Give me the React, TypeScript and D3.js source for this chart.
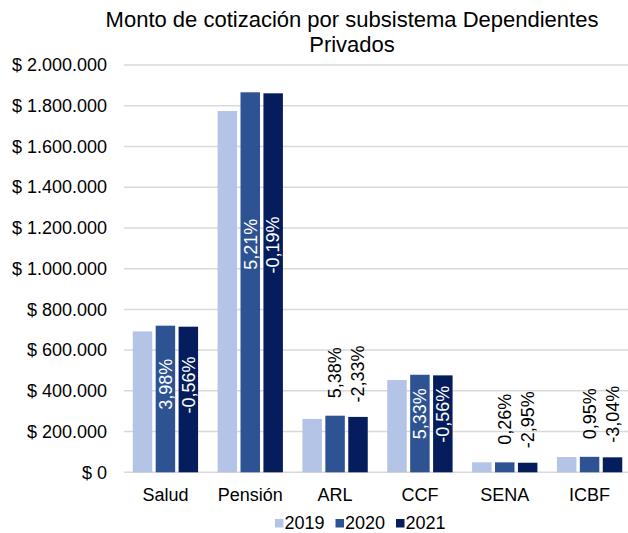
import React from "react";
import * as d3 from "d3";

// Monto de cotización por subsistema - Dependientes Privados
const categories = ["Salud", "Pensión", "ARL", "CCF", "SENA", "ICBF"];
const years = ["2019", "2020", "2021"];
const values2019 = [692000, 1774000, 262000, 453000, 49000, 75000];
const values2020 = [720000, 1866000, 278000, 479000, 49000, 76000];
const values2021 = [715000, 1861000, 272000, 476000, 47000, 73500];
const change2020 = ["3,98%", "5,21%", "5,38%", "5,33%", "0,26%", "0,95%"];
const change2021 = ["-0,56%", "-0,19%", "-2,33%", "-0,56%", "-2,95%", "-3,04%"];
const yTicks = [0, 200000, 400000, 600000, 800000, 1000000, 1200000, 1400000, 1600000, 1800000, 2000000];

const colors = ["#b4c4e7", "#2e5393", "#051d5c"];
const font = "'Liberation Sans', Arial, sans-serif";

const W = 628;
const H = 533;
const plot = { left: 123, right: 632, top: 65, bottom: 472.3 };

const fmt = (v: number) =>
  "$ " + d3.format(",")(v).replace(/,/g, ".");

export default function App() {
  const series = [values2019, values2020, values2021];
  const labels = [null, change2020, change2021];

  const x0 = d3.scaleBand<string>().domain(categories)
    .range([plot.left, plot.right]).paddingInner(0.23).paddingOuter(0.115);
  const x1 = d3.scaleBand<string>().domain(years)
    .range([0, x0.bandwidth()]).paddingInner(0.15);
  const y = d3.scaleLinear().domain([0, 2000000]).range([plot.bottom, plot.top]);

  return (
    <svg width={W} height={H} style={{ position: "absolute", left: 0, top: 0, background: "#fff" }}
      fontFamily={font}>
      <text x={352} y={27} textAnchor="middle" fontSize={22} fill="#000">
        Monto de cotización por subsistema Dependientes
      </text>
      <text x={352} y={51.5} textAnchor="middle" fontSize={22} fill="#000">Privados</text>

      {yTicks.map((t) => (
        <g key={t}>
          <line x1={124} x2={W} y1={y(t)} y2={y(t)} stroke="#d9d9d9" strokeWidth={1.5} />
          <text x={107} y={y(t)} dy="0.35em" textAnchor="end" fontSize={18} fill="#000">{fmt(t)}</text>
        </g>
      ))}

      {categories.map((c, i) => (
        <g key={c}>
          {series.map((s, j) => (
            <rect key={j} x={x0(c)! + x1(years[j])!} y={y(s[i])} width={x1.bandwidth()}
              height={y(0) - y(s[i])} fill={colors[j]} />
          ))}
          {labels.map((l, j) => {
            if (!l) return null;
            const v = series[j][i];
            const inside = v > 400000;
            const cx = x0(c)! + x1(years[j])! + x1.bandwidth() / 2;
            const cy = inside ? y(v * 0.6) : y(v) - 43;
            return (
              <text key={j} transform={`translate(${cx},${cy}) rotate(-90)`} textAnchor="middle"
                dy="0.35em" fontSize={18} fill={inside ? "#fff" : "#000"}>{l[i]}</text>
            );
          })}
          <text x={x0(c)! + x0.bandwidth() / 2} y={501} textAnchor="middle" fontSize={18} fill="#000">{c}</text>
        </g>
      ))}

      {years.map((yr, j) => (
        <g key={yr} transform={`translate(${275 + j * 60.5},0)`}>
          <rect x={0} y={519} width={8.5} height={8.5} fill={colors[j]} />
          <text x={9.5} y={529} fontSize={18} fill="#000">{yr}</text>
        </g>
      ))}
    </svg>
  );
}
